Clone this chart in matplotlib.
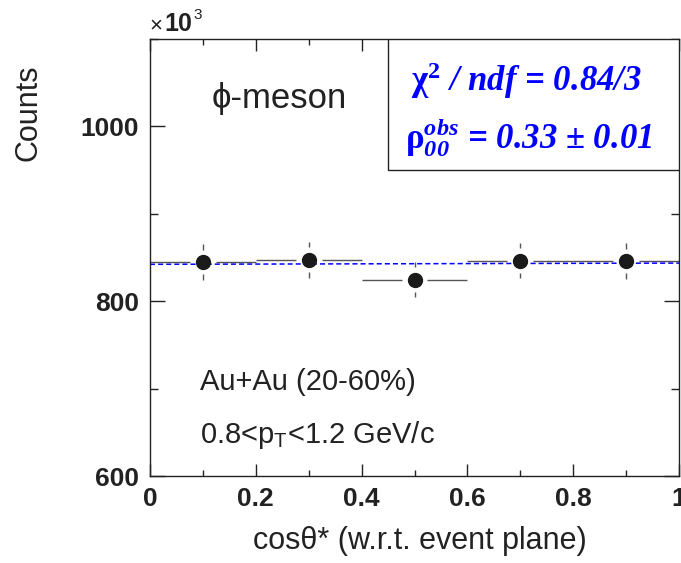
import matplotlib
matplotlib.use("Agg")
import matplotlib.pyplot as plt
from matplotlib.patches import Rectangle
from matplotlib.ticker import MultipleLocator, FuncFormatter

plt.rcParams['font.family'] = ['Liberation Sans', 'DejaVu Sans']
plt.rcParams['mathtext.fontset'] = 'custom'
plt.rcParams['mathtext.rm'] = 'Liberation Serif:bold'
plt.rcParams['mathtext.it'] = 'Liberation Serif:italic:bold'
plt.rcParams['mathtext.bf'] = 'Liberation Serif:italic:bold'
plt.rcParams['mathtext.sf'] = 'Liberation Sans'

# phi-meson yield vs cos(theta*), counts in units of 10^3
cos_centers = [0.1, 0.3, 0.5, 0.7, 0.9]
counts = [845.0, 847.6, 824.8, 846.5, 846.0]
count_err = [20.5, 20.5, 20.5, 20.5, 20.5]
bin_half = 0.1

# fitted curve, rho00 = 0.33
fit_x = [0.0, 1.0]
fit_y = [842.2, 843.6]

fig = plt.figure(figsize=(6.81, 5.63), dpi=100)
ax = fig.add_axes([150 / 681, 1 - 476 / 563, 529 / 681, 437 / 563])

# ROOT style error bars, with a gap around the marker
gap_x = 0.0245
gap_y = 14
err_col = '#555555'
for x, y, e in zip(cos_centers, counts, count_err):
    ax.hlines([y, y], [x - bin_half, x + gap_x], [x - gap_x, x + bin_half],
              color=err_col, lw=1.0, zorder=2)
    ax.vlines([x, x], [y + gap_y, y - e], [y + e, y - gap_y],
              color=err_col, lw=1.0, zorder=2)

ax.plot(fit_x, fit_y, color='#0000ff', lw=1.1, ls=(0, (3.3, 2)), zorder=2)
ax.plot(cos_centers, counts, 'o', color='#1a1a1a', ms=10, zorder=3)

ax.set_xlim(0, 1)
ax.set_ylim(600, 1100)
ax.xaxis.set_major_locator(MultipleLocator(0.2))
ax.xaxis.set_minor_locator(MultipleLocator(0.1))
ax.yaxis.set_major_locator(MultipleLocator(200))
ax.yaxis.set_minor_locator(MultipleLocator(100))
ax.xaxis.set_major_formatter(FuncFormatter(lambda v, p: f"{v:g}"))
ax.yaxis.set_major_formatter(FuncFormatter(lambda v, p: f"{v:g}"))
ax.tick_params(which='both', direction='in', top=True, right=True,
               color='#222222', width=1.0)
ax.tick_params(axis='x', which='major', length=8.6, pad=8)
ax.tick_params(axis='x', which='minor', length=4.3)
ax.tick_params(axis='y', which='major', length=10.8, pad=8)
ax.tick_params(axis='y', which='minor', length=5.8)
for lab in ax.get_xticklabels() + ax.get_yticklabels():
    lab.set_fontsize(19)
    lab.set_fontweight('bold')
    lab.set_color('#222222')
for s in ax.spines.values():
    s.set_linewidth(1.0)
    s.set_color('#222222')

# fit result box
ax.add_patch(Rectangle((0.45, 0.70), 0.55, 0.30, transform=ax.transAxes,
                       facecolor='white', edgecolor='#222222', lw=1.0, zorder=4))
blue_kw = dict(color='#0000ff', fontsize=25, family='Liberation Serif',
               weight='bold', style='italic', ha='center', va='baseline', zorder=5)
fig.text(526 / 681, 1 - 91 / 563, r"$\mathrm{\chi}^{2}$ / ndf = 0.84/3", **blue_kw)
fig.text(529 / 681, 1 - 148 / 563, r"$\mathrm{\rho}^{obs}_{\mathbf{00}}$ = 0.33 ± 0.01", **blue_kw)

# labels
fig.text(212 / 681, 1 - 108 / 563, "ϕ-meson", fontsize=25, color='#222222',
         ha='left', va='baseline')
fig.text(200 / 681, 1 - 390 / 563, "Au+Au (20-60%)", fontsize=21, color='#222222',
         ha='left', va='baseline')
fig.text(200 / 681, 1 - 443 / 563, r"0.8<$\mathsf{p}_{\mathsf{T}}$<1.2 GeV/c",
         fontsize=21, color='#222222', ha='left', va='baseline')

fig.text(28 / 681, 1 - 113 / 563, "Counts", fontsize=22, rotation=90,
         color='#222222', ha='center', va='center')
fig.text(420 / 681, 1 - 541 / 563, "cosθ* (w.r.t. event plane)", fontsize=22,
         color='#222222', ha='center', va='center')

# axis multiplier
fig.text(149 / 681, 1 - 31 / 563, "×", fontsize=16, color='#222222', va='baseline')
fig.text(164 / 681, 1 - 31 / 563, "10", fontsize=18, weight='bold',
         color='#222222', va='baseline')
fig.text(193 / 681, 1 - 19 / 563, "3", fontsize=11, color='#222222', va='baseline')

fig.savefig("out.png", dpi=100)
